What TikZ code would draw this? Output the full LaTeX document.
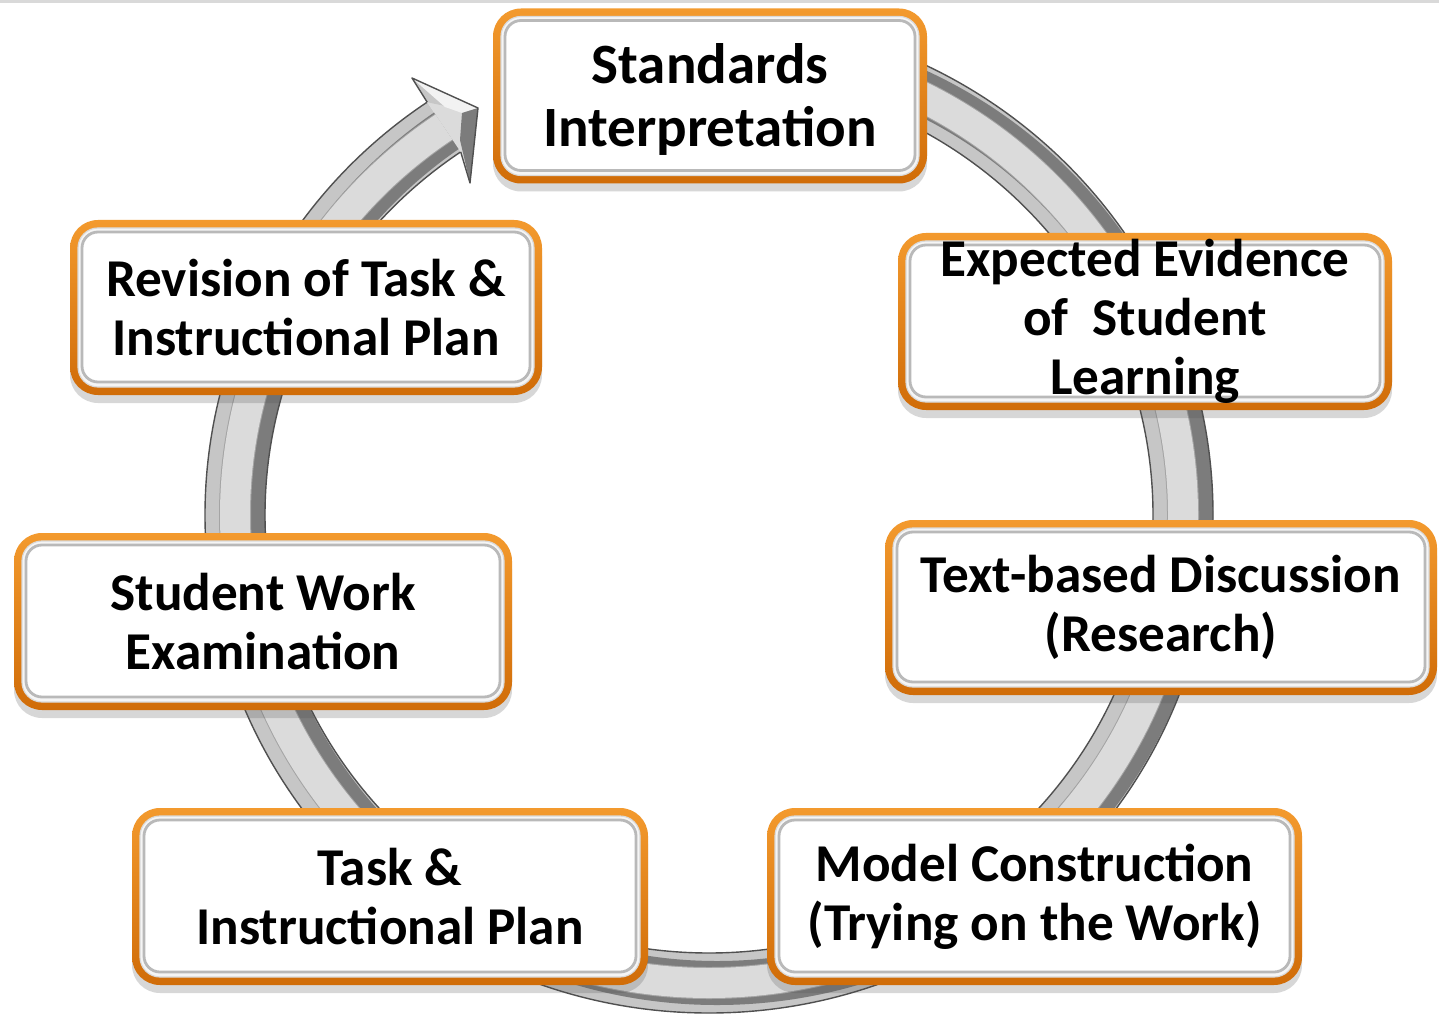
\documentclass[tikz,border=0pt]{standalone}
\usepackage{fontspec}
\setmainfont{Carlito}
\usetikzlibrary{shadows}
\definecolor{orngtop}{HTML}{F39A2E}
\definecolor{orngbot}{HTML}{D06C08}
\definecolor{ringlight}{HTML}{C6C6C6}
\definecolor{ringmain}{HTML}{DBDBDB}
\definecolor{ringdark}{HTML}{7C7C7C}
\definecolor{ringedge}{HTML}{505050}
\definecolor{ringline}{HTML}{A4A4A4}
\begin{document}
\begin{tikzpicture}[x=0.5pt,y=-0.5pt,
  stagebox/.style={top color=orngtop, bottom color=orngbot, draw=none, rounded corners=14pt,
    inner sep=0pt, outer sep=0pt,
    drop shadow={shadow xshift=0pt, shadow yshift=-4pt, opacity=0.22, fill=black!70}},
  bevelouter/.style={fill=white!92!gray, draw=gray!30, line width=0.6pt, rounded corners=10pt},
  bevelinner/.style={fill=white, draw=gray!55, line width=1.4pt, rounded corners=8pt},
  stagetext/.style={inner sep=0pt, align=center, text=black,
    font=\fontsize{26.6}{29.5}\selectfont\bfseries}]
\useasboundingbox (0,0) rectangle (1439,1021);
\fill[white] (0,0) rectangle (1439,1021);
\draw[gray!30, line width=1.5pt] (0,1.5) -- (1439,1.5);

% ---- circular band ----
\draw[ringlight, line width=30pt] (709,47) arc[start angle=-90, end angle=236, x radius=474, y radius=468];
\draw[ringdark, line width=22pt] (717,47) arc[start angle=-90, end angle=236, x radius=474, y radius=468];
\draw[ringline, line width=16pt] (709,47) arc[start angle=-90, end angle=236, x radius=474, y radius=468];
\draw[ringmain, line width=15pt] (709,47) arc[start angle=-90, end angle=236, x radius=474, y radius=468];
\draw[ringedge, line width=0.7pt] (709,17) arc[start angle=-90, end angle=236, x radius=504, y radius=498];
\draw[ringedge, line width=0.7pt] (709,77) arc[start angle=-90, end angle=236, x radius=444, y radius=438];
% arrowhead
\coordinate (ao) at (427.2,102.2);
\coordinate (ai) at (460.7,151.9);
\coordinate (bt) at (412,78);
\coordinate (tip) at (478,108);
\coordinate (bb) at (470,183);
\fill[ringmain] (ao) -- (bt) -- (tip) -- (bb) -- (ai) -- cycle;
\fill[ringlight] (ao) -- (bt) -- (445,106) -- cycle;
\fill[white!90!gray] (bt) -- (tip) -- (462,113) -- (445,107) -- cycle;
\fill[ringdark] (462,113) -- (tip) -- (bb) -- (460,140) -- cycle;
\draw[ringedge, line width=0.7pt, line join=round] (ao) -- (bt) -- (tip) -- (bb) -- (ai);

% ---- boxes (outer orange edge sizes) ----
\node[stagebox, minimum width=217pt, minimum height=87.5pt] (std) at (710,96) {};
\node[stagebox, minimum width=247pt, minimum height=88.5pt] (exp) at (1145,321.5) {};
\node[stagebox, minimum width=276pt, minimum height=87.5pt] (txt) at (1161,607.5) {};
\node[stagebox, minimum width=267.5pt, minimum height=88.5pt] (mod) at (1034.5,896.5) {};
\node[stagebox, minimum width=258pt, minimum height=88.5pt] (task) at (390,896.5) {};
\node[stagebox, minimum width=249pt, minimum height=88.5pt] (stu) at (263,621.5) {};
\node[stagebox, minimum width=236pt, minimum height=87.5pt] (rev) at (306,307.5) {};

\foreach \b in {std,exp,txt,mod,task,stu,rev}{
  \draw[bevelouter] ([shift={(8,8)}]\b.north west) rectangle ([shift={(-8,-8)}]\b.south east);
  \draw[bevelinner] ([shift={(12,12)}]\b.north west) rectangle ([shift={(-12,-13)}]\b.south east);
}

% ---- texts ----
\node[stagetext, font=\fontsize{28.5}{31.5}\selectfont\bfseries] (stdt) at (710,99) {Standards\\Interpretation};
\node[stagetext] (expt) at (exp) {Expected Evidence\\of\ \ Student\\Learning};
\node[stagetext] (txtt) at (txt) {Text-based Discussion\\(Research)};
\node[stagetext] (modt) at (mod) {Model Construction\\(Trying on the Work)};
\node[stagetext] (taskt) at (task) {Task \&\\Instructional Plan};
\node[stagetext] (stut) at (stu) {Student Work\\Examination};
\node[stagetext] (revt) at (rev) {Revision of Task \&\\Instructional Plan};
\end{tikzpicture}
\end{document}
